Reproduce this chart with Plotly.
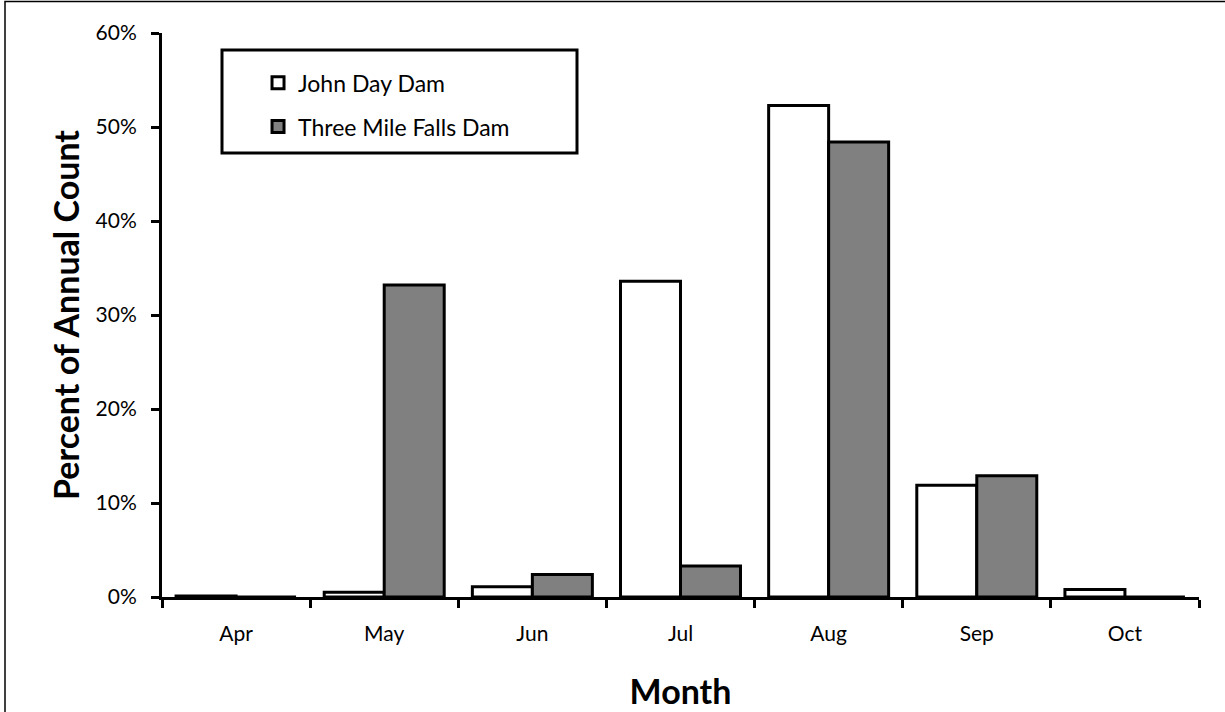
import plotly.graph_objects as go

months = ['Apr', 'May', 'Jun', 'Jul', 'Aug', 'Sep', 'Oct']
john_day = [0.1, 0.5, 1.1, 33.6, 52.3, 11.9, 0.8]
three_mile = [0.0, 33.2, 2.4, 3.3, 48.4, 12.9, 0.0]
y_ticks = [0, 10, 20, 30, 40, 50, 60]
y_labels = [f'{v}%' for v in y_ticks]

xpos = list(range(len(months)))

fig = go.Figure()
fig.add_trace(go.Bar(x=xpos, y=john_day, name='John Day Dam', legendgroup='a',
                     marker=dict(color='white', line=dict(color='black', width=3))))
fig.add_trace(go.Bar(x=xpos, y=three_mile, name='Three Mile Falls Dam', legendgroup='b',
                     marker=dict(color='#808080', line=dict(color='black', width=3))))

font = 'Lato, Noto Sans, sans-serif'
fig.update_layout(
    width=1225, height=712,
    margin=dict(l=162, r=26, t=33, b=115),
    plot_bgcolor='white', paper_bgcolor='white',
    barmode='group', bargap=0.19, bargroupgap=0,
    font=dict(family=font, color='black', size=21),
    showlegend=True,
    legend=dict(x=0.0926, y=0.95, xanchor='left', yanchor='top',
                bgcolor='rgba(0,0,0,0)', borderwidth=0,
                font=dict(size=23), tracegroupgap=11),
    xaxis=dict(range=[-0.5, 6.5], tickvals=xpos, ticktext=months, ticks='',
               showline=True, linecolor='black', linewidth=3, showgrid=False,
               zeroline=False, tickfont=dict(size=21), ticklabelstandoff=16,
               automargin=False,
               minor=dict(tick0=-0.5, dtick=1, ticks='outside', ticklen=8,
                          tickwidth=3, tickcolor='black', showgrid=False),
               title=dict(text='<b>Month</b>', font=dict(size=34), standoff=36)),
    yaxis=dict(range=[0, 60], tickvals=y_ticks, ticktext=y_labels, ticks='outside',
               ticklen=8, tickwidth=3, tickcolor='black', ticklabelstandoff=10,
               showline=True, linecolor='black', linewidth=3, showgrid=False,
               zeroline=False, tickfont=dict(size=21), automargin=False,
               title=dict(text='<b>Percent of Annual Count</b>', font=dict(size=34),
                          standoff=6)),
    shapes=[
        # legend frame
        dict(type='rect', xref='paper', yref='paper',
             x0=(222 - 162) / 1037, x1=(577 - 162) / 1037,
             y0=(597 - 153) / 564, y1=(597 - 50) / 564,
             line=dict(color='black', width=3)),
        # outer chart border (only left and top edges fall inside the picture)
        dict(type='rect', xref='paper', yref='paper',
             x0=(5 - 162) / 1037, x1=(1240 - 162) / 1037,
             y0=(597 - 730) / 564, y1=(597 - 1.5) / 564,
             line=dict(color='black', width=1.5)),
    ],
)

fig.write_html("out.html", config={'displayModeBar': False},
               post_script="document.body.style.margin='0';")
